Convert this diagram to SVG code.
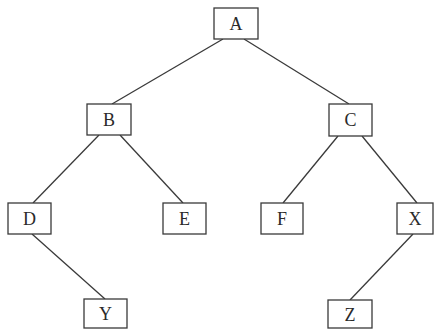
<svg xmlns="http://www.w3.org/2000/svg" width="434" height="330" viewBox="0 0 434 330">
<style>
.box{fill:#fff;stroke:#3a3a3a;stroke-width:1.3}
.lbl{font-family:"Liberation Serif","DejaVu Serif",serif;font-size:18px;fill:#2a2a2a;text-anchor:middle}
.edge{stroke:#3a3a3a;stroke-width:1.3;fill:none}
</style>
<rect width="434" height="330" fill="#fff"/>
<g id="connectors">
<line class="edge" x1="223" y1="39" x2="112" y2="104"/>
<line class="edge" x1="244" y1="39" x2="349" y2="104"/>
<line class="edge" x1="99" y1="135" x2="33" y2="203"/>
<line class="edge" x1="120" y1="135" x2="183" y2="203"/>
<line class="edge" x1="338" y1="136" x2="283" y2="203"/>
<line class="edge" x1="362" y1="136" x2="417" y2="203"/>
<line class="edge" x1="32" y1="234" x2="105" y2="299"/>
<line class="edge" x1="413" y1="234" x2="350" y2="300"/>
</g>
<g id="A"><rect class="box" x="214" y="8" width="44" height="31"/><text class="lbl" x="236" y="30">A</text></g>
<g id="B"><rect class="box" x="87" y="104" width="44" height="31"/><text class="lbl" x="109" y="126">B</text></g>
<g id="C"><rect class="box" x="329" y="104" width="43" height="32"/><text class="lbl" x="350.5" y="126">C</text></g>
<g id="D"><rect class="box" x="8" y="203" width="43" height="31"/><text class="lbl" x="29.5" y="225">D</text></g>
<g id="E"><rect class="box" x="163" y="203" width="43" height="31"/><text class="lbl" x="184.5" y="225">E</text></g>
<g id="F"><rect class="box" x="261" y="203" width="42" height="31"/><text class="lbl" x="282" y="225">F</text></g>
<g id="X"><rect class="box" x="397" y="203" width="36" height="31"/><text class="lbl" x="415" y="225">X</text></g>
<g id="Y"><rect class="box" x="84" y="299" width="43" height="29"/><text class="lbl" x="105.5" y="320">Y</text></g>
<g id="Z"><rect class="box" x="328" y="300" width="44" height="28"/><text class="lbl" x="350" y="321">Z</text></g>
</svg>
